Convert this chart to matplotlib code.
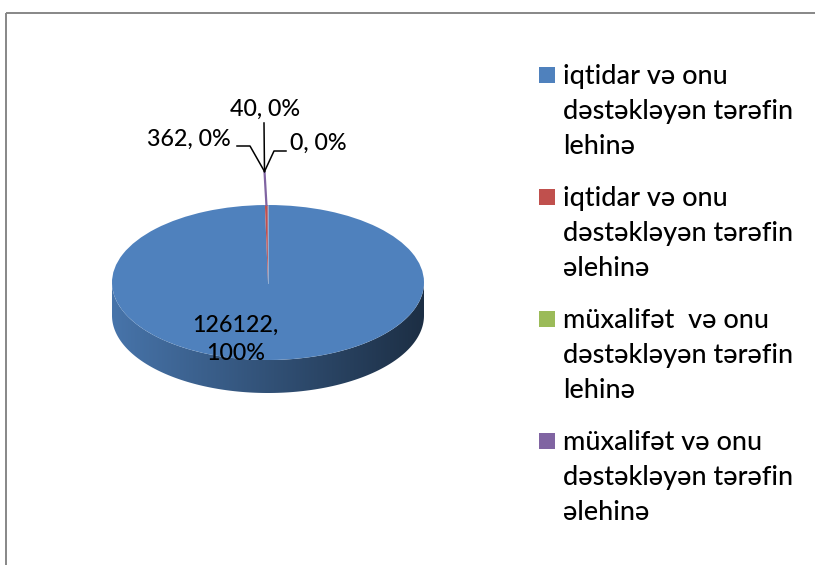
import numpy as np
import matplotlib
matplotlib.use("Agg")
import matplotlib.pyplot as plt
from matplotlib.patches import Wedge, Polygon, Rectangle
from matplotlib.colors import LinearSegmentedColormap, to_rgb

# ---------------- data ----------------
categories = [
    "iqtidar və onu\ndəstəkləyən tərəfin\nlehinə",
    "iqtidar və onu\ndəstəkləyən tərəfin\nəlehinə",
    "müxalifət  və onu\ndəstəkləyən tərəfin\nlehinə",
    "müxalifət və onu\ndəstəkləyən tərəfin\nəlehinə",
]
values = [126122, 362, 0, 40]
colors = ["#4F81BD", "#C0504D", "#9BBB59", "#8064A2"]

FONT = ["Lato", "DejaVu Sans"]
plt.rcParams["font.family"] = FONT
WEIGHT = "medium"

W, H = 815, 565
fig = plt.figure(figsize=(W / 100, H / 100), dpi=100)
fig.patch.set_facecolor("white")

# ---------------- pie geometry ----------------
CX, CY = 268.0, 282.5       # pixel centre of the top ellipse
RX, RY = 156.0, 77.5        # pixel radii
DEPTH = 33.0 / RY           # side depth in data units
xl = (-1.6, 1.6)
yl = (-2.2, 2.6)
axw = (xl[1] - xl[0]) * RX
axh = (yl[1] - yl[0]) * RY
left = CX + xl[0] * RX
bottom = (H - CY) + yl[0] * RY
ax = fig.add_axes([left / W, bottom / H, axw / W, axh / H])
ax.axis("off")
ax.patch.set_visible(False)
ax.set_zorder(1)

total = float(sum(values))
# Excel: start at 12 o'clock, go clockwise
angles = []
cum = 0.0
for v in values:
    a0 = 90.0 - 360.0 * (cum + v) / total
    a1 = 90.0 - 360.0 * cum / total
    angles.append((a0, a1))
    cum += v

# side faces (front half only: 180..360 degrees)
for (a0, a1), c in zip(angles, colors):
    lo, hi = a0 % 360, (a0 % 360) + (a1 - a0)
    for shift in (0, 360, -360):
        s0 = max(lo + shift, 180.0)
        s1 = min(hi + shift, 360.0)
        if s1 - s0 <= 0:
            continue
        t = np.radians(np.linspace(s0, s1, 300))
        top = np.column_stack([np.cos(t), np.sin(t)])
        bot = np.column_stack([np.cos(t[::-1]), np.sin(t[::-1]) - DEPTH])
        side = Polygon(np.vstack([top, bot]), closed=True,
                       facecolor="none", edgecolor="none")
        ax.add_patch(side)
        base = np.array(to_rgb(c))
        cmap = LinearSegmentedColormap.from_list(
            "side", [tuple(base * 0.90), tuple(base * 0.63), tuple(base * 0.36)])
        grad = np.linspace(0, 1, 256).reshape(1, -1)
        im = ax.imshow(grad, cmap=cmap, extent=(-1, 1, -1 - DEPTH, 0),
                       aspect="auto", interpolation="bilinear", zorder=1)
        im.set_clip_path(side)

# top faces
for (a0, a1), c in zip(angles, colors):
    if a1 - a0 <= 0:
        continue
    ax.add_patch(Wedge((0, 0), 1.0, a0, a1, facecolor=c, edgecolor="none",
                       zorder=2))
# subtle seam between first and last slice
ax.plot([0, 0], [0, 1], color="#9fb8d8", lw=0.6, zorder=3)

ax.set_xlim(*xl)
ax.set_ylim(*yl)

# overlay axes in pixel coordinates (y downwards), drawn above the pie
ov = fig.add_axes([0, 0, 1, 1])
ov.set_xlim(0, W)
ov.set_ylim(H, 0)
ov.axis("off")
ov.patch.set_visible(False)
ov.set_zorder(5)

# chart frame
ov.add_patch(Rectangle((5.5, 12.5), 1000, 1000, facecolor="none",
                       edgecolor="#878787", lw=1.4, zorder=1))

# ---------------- data labels & leaders (pixel coords) ----------------
pct = [100.0 * v / total for v in values]
lab_text = [f"{values[0]},\n{pct[0]:.0f}%"] + \
           [f"{v}, {p:.0f}%" for v, p in zip(values[1:], pct[1:])]

label_texts = []
for j, line in enumerate(lab_text[0].split("\n")):
    label_texts.append(ov.text(235.5, 332 + j * 27.5, line, ha="center",
                               va="baseline", fontsize=17, color="black",
                               fontweight=WEIGHT, zorder=5))
t362 = ov.text(231, 146, lab_text[1], ha="right", va="baseline",
               fontsize=17, color="black", fontweight=WEIGHT, zorder=5)
t0 = ov.text(290, 150, lab_text[2], ha="left", va="baseline",
             fontsize=17, color="black", fontweight=WEIGHT, zorder=5)
t40 = ov.text(265, 116, lab_text[3], ha="center", va="baseline",
              fontsize=17, color="black", fontweight=WEIGHT, zorder=5)
label_texts += [t362, t0, t40]

jx, jy = 264.5, 171.5
ov.plot([jx, 266.5], [jy, 206], color=colors[3], lw=1.6, zorder=4,
        solid_capstyle="butt")
ov.plot([jx, jx - 0.5], [jy, 123], color="black", lw=1.1, zorder=4)
ov.plot([jx, 250, 237], [jy, 146, 146], color="black", lw=1.1, zorder=4)
ov.plot([jx, 274, 286], [jy, 151, 151], color="black", lw=1.1, zorder=4)

# ---------------- legend ----------------
SQ_X, SQ = 539, 16
first_center = 75
entry_step = 122
line_step = 35
text_x = 563
legend_texts = []
probe = None
for i, (cat, c) in enumerate(zip(categories, colors)):
    yc = first_center + i * entry_step
    ov.add_patch(Rectangle((SQ_X, yc - SQ / 2), SQ, SQ, facecolor=c,
                           edgecolor="none", zorder=5))
    for j, line in enumerate(cat.split("\n")):
        t = ov.text(text_x, yc + 9 + j * line_step, line, ha="left",
                    va="baseline", fontsize=17, color="black",
                    fontweight=WEIGHT, zorder=5)
        legend_texts.append(t)
        if i == 0 and j == 1:
            probe = t

# scale fonts to match the reference text widths
fig.canvas.draw()
r = fig.canvas.get_renderer()
s_leg = 230.0 / probe.get_window_extent(r).width
s_lab = 84.0 / t362.get_window_extent(r).width
for t in legend_texts:
    t.set_fontsize(t.get_fontsize() * s_leg)
for t in label_texts:
    t.set_fontsize(t.get_fontsize() * s_lab)

fig.savefig("out.png", dpi=100, facecolor="white")
